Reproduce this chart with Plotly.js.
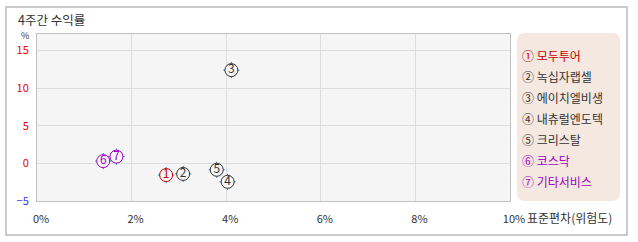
<!DOCTYPE html>
<html><head><meta charset="utf-8">
<script src="https://cdn.plot.ly/plotly-3.0.1.min.js"></script>
<style>html,body{margin:0;padding:0;background:#fff;}#c{width:638px;height:242px;}</style>
</head><body><div id="c"></div>
<script>
const names = ['모두투어','녹십자랩셀','에이치엘비생','내츄럴엔도텍','크리스탈','코스닥','기타서비스'];
const marks = ['①','②','③','④','⑤','⑥','⑦'];
const digits = ['1','2','3','4','5','6','7'];
const stdev = [2.73, 3.09, 4.11, 4.03, 3.80, 1.40, 1.68];
const ret = [-1.55, -1.4, 12.4, -2.45, -0.85, 0.3, 0.9];
const colors = ['#c00000','#333333','#333333','#333333','#333333','#a000c0','#a000c0'];
const xTickVals = [0,2,4,6,8,10];
const xTickText = ['0%','2%','4%','6%','8%','10%'];
const yTickVals = [-5,0,5,10,15];
const yTickColors = ['#3333ff','#ee0000','#ee0000','#ee0000','#ee0000'];

const W = 638, H = 242;
const M = {l:37, r:128, t:34, b:41};
const PW = W - M.l - M.r, PH = H - M.t - M.b;
const px = v => (v - M.l) / PW;
const py = v => 1 - (v - M.t) / PH;
const font = '"Noto Sans CJK KR", "Noto Sans", sans-serif';

const traces = [
  {x: stdev, y: ret, mode:'markers', type:'scatter', hoverinfo:'skip',
   marker:{symbol:'cross-thin-open', size:11.5, line:{color:colors, width:1}}},
  {x: stdev, y: ret, mode:'markers+text', type:'scatter', hoverinfo:'skip',
   text: digits, textposition:'middle center',
   textfont:{family:font, size:12, color:colors},
   marker:{symbol:'circle', size:13, color:'#f5f5f5', line:{color:colors, width:1}}}
];

const shapes = [
  {type:'rect', xref:'paper', yref:'paper', x0:px(6), x1:px(627), y0:py(7), y1:py(235),
   line:{color:'#bbbbbb', width:1.5}, fillcolor:'rgba(0,0,0,0)', layer:'below'}
];
(function(){
  const x0=517, x1=620, y0=33, y1=201, r=8;
  const path = `M ${px(x0+r)} ${py(y0)} L ${px(x1-r)} ${py(y0)} Q ${px(x1)} ${py(y0)} ${px(x1)} ${py(y0+r)} L ${px(x1)} ${py(y1-r)} Q ${px(x1)} ${py(y1)} ${px(x1-r)} ${py(y1)} L ${px(x0+r)} ${py(y1)} Q ${px(x0)} ${py(y1)} ${px(x0)} ${py(y1-r)} L ${px(x0)} ${py(y0+r)} Q ${px(x0)} ${py(y0)} ${px(x0+r)} ${py(y0)} Z`;
  shapes.push({type:'path', xref:'paper', yref:'paper', path:path, fillcolor:'#f5e8e1', line:{width:0}, layer:'below'});
})();

const annotations = [
  {text:'4주간 수익률', xref:'paper', yref:'paper', x:px(16), y:py(19), xanchor:'left', yanchor:'middle', showarrow:false,
   font:{family:font, size:12.5, color:'#333'}},
  {text:'%', xref:'paper', yref:'paper', x:px(25), y:py(35.5), xanchor:'center', yanchor:'middle', showarrow:false,
   font:{family:font, size:9, color:'#333'}},
  {text:'표준편차(위험도)', xref:'paper', yref:'paper', x:px(525), y:py(217), xanchor:'left', yanchor:'middle', showarrow:false,
   font:{family:font, size:12, color:'#333'}}
];
for (let i=0;i<names.length;i++){
  annotations.push({text: marks[i] + ' ' + names[i], xref:'paper', yref:'paper', x:px(520), y:py(55 + i*21),
    xanchor:'left', yanchor:'middle', showarrow:false, font:{family:font, size:12, color:colors[i]}});
}

const layout = {
  width:W, height:H, margin:M, paper_bgcolor:'#fff', plot_bgcolor:'#f5f5f5',
  showlegend:false, shapes:shapes, annotations:annotations,
  xaxis:{range:[0,10], tickvals:xTickVals, ticktext:xTickText, showgrid:true, gridcolor:'#dddddd', zeroline:false,
    showline:true, mirror:true, linecolor:'#c0c0c0', linewidth:1, ticks:'', ticklabelstandoff:8, ticklabelshift:4,
    tickfont:{family:font, size:11, color:'#333'}, fixedrange:true},
  yaxis:{range:[-5,17.2], tickvals:yTickVals,
    ticktext: yTickVals.map((v,i)=>`<span style="color:${yTickColors[i]}">${v<0?'−'+Math.abs(v):v}</span>`),
    showgrid:true, gridcolor:'#dddddd', zeroline:false, showline:true, mirror:true, linecolor:'#c0c0c0', linewidth:1,
    ticks:'', ticklabelstandoff:5, tickfont:{family:font, size:11, color:'#ee0000'}, fixedrange:true}
};
Plotly.newPlot('c', traces, layout, {displayModeBar:false, staticPlot:true});
</script></body></html>
